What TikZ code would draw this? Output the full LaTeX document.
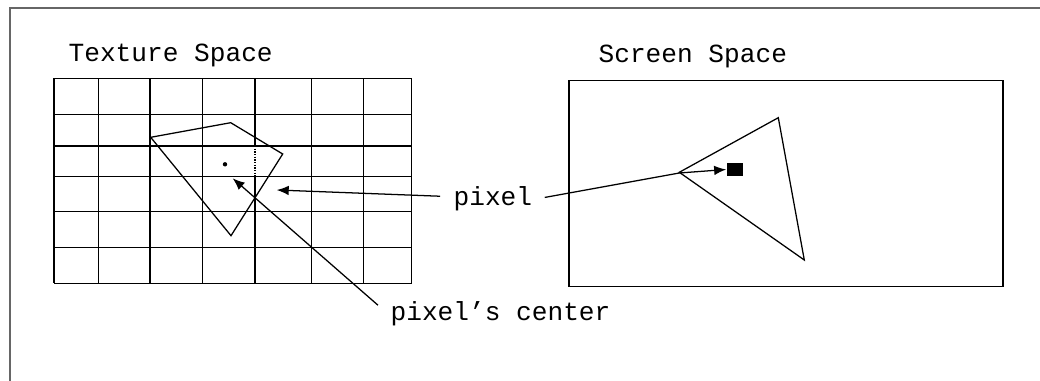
\documentclass[tikz,border=0pt]{standalone}
\usepackage{fontspec}
\setmonofont{Liberation Mono}
\usetikzlibrary{arrows.meta}

\begin{document}
\begin{tikzpicture}[x=0.025cm, y=-0.025cm, line width=0.9pt,
    lbl/.style={font=\ttfamily\fontsize{18.6}{20}\selectfont, inner sep=0pt, anchor=base west},
    arr/.style={-{Latex[length=0.3cm, width=0.24cm]}},
    frame/.style={draw=black!60, line width=1.2pt}]
    \useasboundingbox (0,0) rectangle (1040,381);
    % page frame (cut at right and bottom)
    \draw[frame] (10,381) -- (10,8) -- (1040,8);

    % labels
    \node[lbl](texlabel) at (68,61.5) {Texture Space};
    \node[lbl](scrlabel) at (598,62.3) {Screen Space};
    \node[lbl](pixlabel) at (453,205) {pixel};
    \node[lbl](ctrlabel) at (390,320) {pixel’s center};

    % texture space grid
    \foreach \gx in {54,98.3,150,202.3,311.7,363.3,411.7}
        \draw (\gx,78.3) -- (\gx,283.3);
    \draw (255,78.3) -- (255,146);
    \draw[densely dotted] (255,146) -- (255,176.7);
    \draw (255,176.7) -- (255,283.3);
    \foreach \gy in {78.3,114.3,146,176.7,211.7,247.7,283.3}
        \draw (54,\gy) -- (411.7,\gy);

    % texture footprint
    \draw (150.7,137.3) -- (230.7,122.7) -- (282.7,154) -- (231,235.7) -- cycle;
    \coordinate (ctr) at (225,164.3);
    \fill (ctr) circle (2.2);
    \coordinate (ctrtip) at (232.7,178.3);
    \coordinate (pixtex) at (276.7,190);

    % screen space
    \draw (569,80.7) rectangle (1003,286.7);
    \draw (679.3,172.3) -- (778.3,117.7) -- (804.3,260) -- cycle;
    \node[fill, inner sep=0pt, minimum width=0.41cm, minimum height=0.31cm](pixscr) at (735,169.5) {};

    % arrows
    \draw[arr] ([xshift=-0.32cm,yshift=0.05cm]pixlabel.west) -- (pixtex);
    \draw[arr] ([xshift=0.3cm,yshift=0.02cm]pixlabel.east) -- (679.3,173) -- (pixscr.west);
    \draw[arr] ([shift={(-12,-8)}]ctrlabel.west) -- (ctrtip);
\end{tikzpicture}
\end{document}
